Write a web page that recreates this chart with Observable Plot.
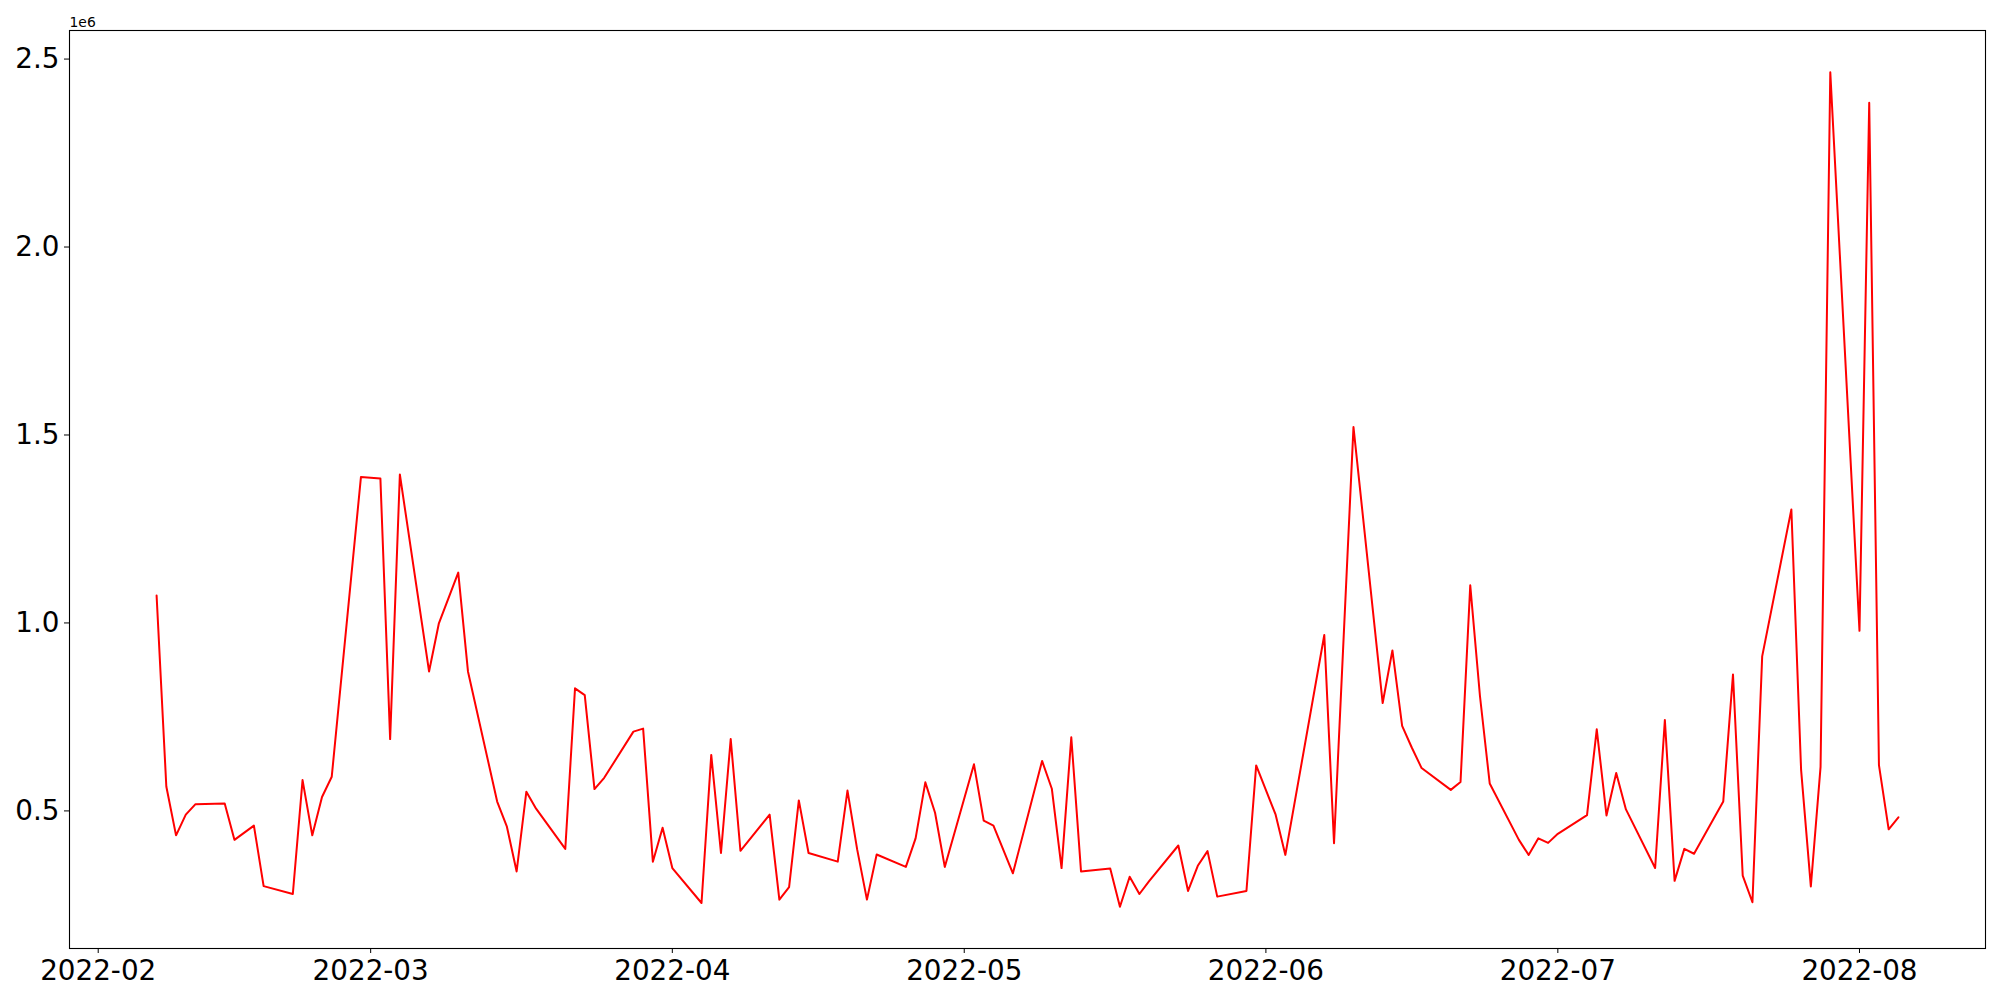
<!DOCTYPE html>
<html>
<head>
<meta charset="utf-8">
<script src="https://cdn.jsdelivr.net/npm/d3@7"></script>
<script src="https://cdn.jsdelivr.net/npm/@observablehq/plot@0.6"></script>
<style>
  html, body { margin: 0; padding: 0; background: #fff; }
  #chart { width: 2000px; height: 1000px; }
</style>
</head>
<body>
<div id="chart"></div>
<script>
const dates = [
  "2022-02-07","2022-02-08","2022-02-09","2022-02-10","2022-02-11","2022-02-14","2022-02-15","2022-02-17","2022-02-18","2022-02-21","2022-02-22","2022-02-23","2022-02-24","2022-02-25","2022-02-28",
  "2022-03-02","2022-03-03","2022-03-04","2022-03-07","2022-03-08","2022-03-10","2022-03-11","2022-03-14","2022-03-15","2022-03-16","2022-03-17","2022-03-18","2022-03-21","2022-03-22","2022-03-23","2022-03-24","2022-03-25","2022-03-28","2022-03-29","2022-03-30","2022-03-31",
  "2022-04-01","2022-04-04","2022-04-05","2022-04-06","2022-04-07","2022-04-08","2022-04-11","2022-04-12","2022-04-13","2022-04-14","2022-04-15","2022-04-18","2022-04-19","2022-04-20","2022-04-21","2022-04-22","2022-04-25","2022-04-26","2022-04-27","2022-04-28","2022-04-29",
  "2022-05-02","2022-05-03","2022-05-04","2022-05-06","2022-05-09","2022-05-10","2022-05-11","2022-05-12","2022-05-13","2022-05-16","2022-05-17","2022-05-18","2022-05-19","2022-05-20","2022-05-23","2022-05-24","2022-05-25","2022-05-26","2022-05-27","2022-05-30","2022-05-31",
  "2022-06-02","2022-06-03","2022-06-07","2022-06-08","2022-06-10","2022-06-13","2022-06-14","2022-06-15","2022-06-16","2022-06-17","2022-06-20","2022-06-21","2022-06-22","2022-06-23","2022-06-24","2022-06-27","2022-06-28","2022-06-29","2022-06-30",
  "2022-07-01","2022-07-04","2022-07-05","2022-07-06","2022-07-07","2022-07-08","2022-07-11","2022-07-12","2022-07-13","2022-07-14","2022-07-15","2022-07-18","2022-07-19","2022-07-20","2022-07-21","2022-07-22","2022-07-25","2022-07-26","2022-07-27","2022-07-28","2022-07-29",
  "2022-08-01","2022-08-02","2022-08-03","2022-08-04","2022-08-05"
];

const values = [
  1073000,565000,435000,490000,518000,520000,423000,461000,300000,279000,582000,435000,537000,591000,1388000,
  1384000,691000,1395000,871000,998000,1134000,871000,525000,458000,339000,551000,506000,399000,826000,808000,558000,588000,711000,719000,365000,455000,
  348000,255000,649000,388000,691000,394000,490000,264000,297000,528000,388000,365000,554000,397000,264000,384000,351000,427000,576000,495000,351000,
  624000,474000,461000,334000,633000,559000,348000,696000,339000,347000,245000,325000,279000,313000,408000,287000,354000,393000,272000,287000,621000,
  490000,383000,968000,414000,1521000,787000,927000,726000,668000,614000,556000,577000,1100000,805000,573000,423000,383000,427000,415000,
  439000,489000,717000,488000,601000,504000,348000,742000,314000,399000,386000,525000,863000,328000,257000,911000,1302000,609000,299000,617000,2465000,
  979000,2384000,622000,451000,483000
];

const xTickLabels = ["2022-02","2022-03","2022-04","2022-05","2022-06","2022-07","2022-08"];
const yTicks = [500000, 1000000, 1500000, 2000000, 2500000];
const offsetLabel = "1e6";

const data = dates.map((d, i) => ({date: new Date(d + "T00:00:00Z"), value: values[i]}));

// matplotlib-like 5% margins around the data extent
const [x0, x1] = d3.extent(data, d => +d.date);
const dx = (x1 - x0) * 0.05;
const [y0, y1] = d3.extent(data, d => d.value);
const dy = (y1 - y0) * 0.05;

const xTicks = xTickLabels.map(s => new Date(s + "-01T00:00:00Z"));

const chart = Plot.plot({
  width: 2000,
  height: 1000,
  marginLeft: 69,
  marginRight: 15,
  marginTop: 30,
  marginBottom: 52,
  style: {fontFamily: "DejaVu Sans", fontSize: "27.8px", background: "#fff", color: "#000"},
  x: {type: "utc", domain: [new Date(x0 - dx), new Date(x1 + dx)]},
  y: {domain: [y0 - dy, y1 + dy]},
  marks: [
    Plot.axisX({ticks: xTicks, tickFormat: d3.utcFormat("%Y-%m"), tickSize: 5, tickPadding: 7, label: null}),
    Plot.axisY({ticks: yTicks, tickFormat: d => (d / 1e6).toFixed(1), tickSize: 5, tickPadding: 5, label: null}),
    Plot.line(data, {x: "date", y: "value", stroke: "red", strokeWidth: 2}),
    Plot.frame({stroke: "#000", strokeWidth: 1.1}),
    Plot.text([offsetLabel], {frameAnchor: "top-left", text: d => d, textAnchor: "start", lineAnchor: "bottom", dy: -4, fontSize: 13.9})
  ]
});

document.getElementById("chart").appendChild(chart);
</script>
</body>
</html>
